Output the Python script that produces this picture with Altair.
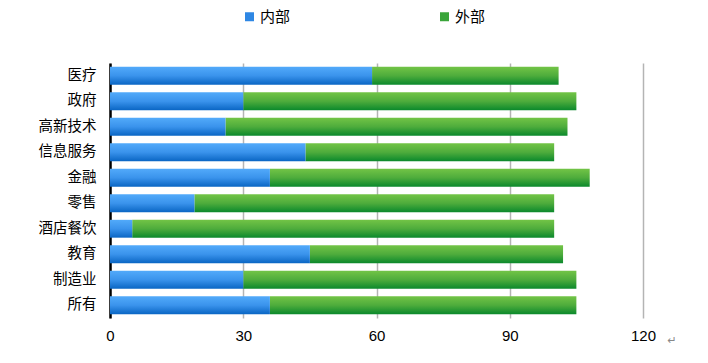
import altair as alt
import pandas as pd

categories = ["医疗", "政府", "高新技术", "信息服务", "金融", "零售", "酒店餐饮", "教育", "制造业", "所有"]
inner = [59, 30, 26, 44, 36, 19, 5, 45, 30, 36]
outer = [42, 75, 77, 56, 72, 81, 95, 57, 75, 69]
series = ["内部", "外部"]
x_ticks = [0, 30, 60, 90, 120]

df = pd.DataFrame({"cat": categories, "inner": inner, "outer": outer})
df["start"] = 0
df["total"] = df["inner"] + df["outer"]

legend_df = pd.DataFrame({"series": series, "v": [0, 0]})

blue = alt.Gradient(gradient="linear", x1=0, x2=0, y1=0, y2=1,
                    stops=[alt.GradientStop(offset=0, color="#52aafa"),
                           alt.GradientStop(offset=0.5, color="#3a93ec"),
                           alt.GradientStop(offset=1, color="#0a66c4")])
green = alt.Gradient(gradient="linear", x1=0, x2=0, y1=0, y2=1,
                     stops=[alt.GradientStop(offset=0, color="#72c446"),
                            alt.GradientStop(offset=0.5, color="#4eac3c"),
                            alt.GradientStop(offset=1, color="#0b892c")])

xscale = alt.Scale(domain=[0, 120], nice=False)
yscale = alt.Scale(domain=categories, paddingInner=0.3, paddingOuter=0.15)

xaxis = alt.Axis(values=x_ticks, grid=True, gridColor="#b4b4b4", gridWidth=1.5,
                 domain=False, ticks=False, labelPadding=10, labelFontSize=15,
                 labelFlush=False, labelOverlap=False,
                 labelFont="Liberation Sans", labelColor="#000000", title=None)
yaxis = alt.Axis(domain=True, domainColor="#000000", domainWidth=2.5, ticks=False,
                 labelPadding=14, labelFontSize=14.5, labelFont="Noto Sans CJK SC",
                 labelColor="#000000", title=None, grid=False)

base = alt.Chart(df)

inner_bar = base.mark_bar(color=blue).encode(
    y=alt.Y("cat:N", scale=yscale, axis=yaxis, sort=categories),
    x=alt.X("start:Q", scale=xscale, axis=xaxis),
    x2="inner:Q",
)
outer_bar = base.mark_bar(color=green).encode(
    y=alt.Y("cat:N", scale=yscale, sort=categories),
    x=alt.X("inner:Q", scale=xscale),
    x2="total:Q",
)

legend_layer = alt.Chart(legend_df).mark_square(opacity=0).encode(
    color=alt.Color("series:N",
                    scale=alt.Scale(domain=series, range=["#2e87e4", "#3aa53a"]),
                    legend=alt.Legend(orient="none", legendX=132, legendY=-54,
                                      direction="horizontal", title=None,
                                      symbolType="square", symbolSize=81,
                                      symbolOpacity=1, symbolStrokeWidth=0,
                                      labelFontSize=15, labelFont="Noto Sans CJK SC",
                                      labelColor="#000000", labelOffset=3,
                                      labelLimit=100,
                                      columnPadding=146, padding=0)),
)

mark_text = alt.Chart(pd.DataFrame({"t": ["↵"]})).mark_text(
    fontSize=11, color="#888888", font="DejaVu Sans"
).encode(text="t:N", x=alt.value(562), y=alt.value(278))

chart = alt.layer(outer_bar, inner_bar, legend_layer, mark_text).properties(
    width=533, height=255,
    autosize=alt.AutoSizeParams(type="none"),
    padding={"left": 102, "top": 55, "right": 50, "bottom": 30},
).configure_view(stroke=None)

chart.save("out.html", embed_options={"renderer": "svg", "actions": False})
